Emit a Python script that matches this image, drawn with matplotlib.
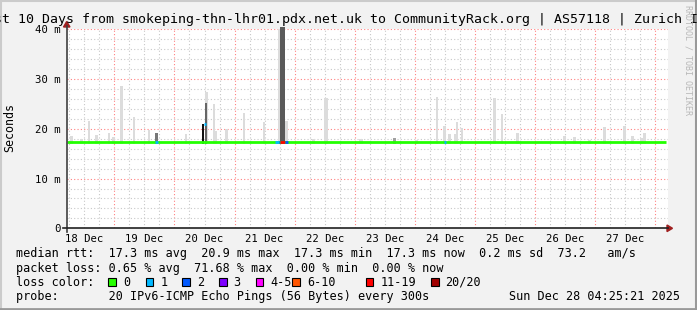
import matplotlib
matplotlib.use("Agg")
import matplotlib.pyplot as plt
from matplotlib.patches import Rectangle, Polygon
from matplotlib.lines import Line2D
import numpy as np

plt.rcParams['font.family'] = ['DejaVu Sans Mono']

# time axis: days since 18 Dec 00:00
t_start = 0.207
t_end = 10.207
day_labels = ["18 Dec", "19 Dec", "20 Dec", "21 Dec", "22 Dec",
              "23 Dec", "24 Dec", "25 Dec", "26 Dec", "27 Dec"]

median_ms = 17.3

# light smoke spikes (time in days, top in ms)
light_t = [0.283, 0.450, 0.578, 0.700, 0.907, 0.987, 1.117, 1.323, 1.573,
           2.195, 2.525, 2.545, 2.657, 2.695, 2.865, 3.157, 3.490, 3.745,
           3.867, 4.317, 4.515, 4.540, 5.090, 5.110, 6.028, 6.367, 6.495,
           6.578, 6.665, 6.703, 6.783, 7.325, 7.453, 7.707, 8.492, 8.658,
           8.908, 9.158, 9.492, 9.610, 9.630, 9.775, 9.825]
light_top = [18.5, 18.0, 21.6, 18.75, 19.2, 18.4, 28.7, 22.4, 19.8,
             19.0, 27.4, 27.4, 25.0, 19.6, 20.0, 23.2, 21.4, 40.0,
             21.6, 18.0, 26.1, 26.1, 18.0, 18.0, 17.7, 26.4, 20.6,
             19.0, 19.0, 21.4, 20.2, 26.2, 23.0, 19.2, 18.55, 18.35,
             17.75, 20.4, 20.6, 18.55, 18.55, 18.1, 19.2]

# dense smoke spikes
dark_t = [1.703, 2.473, 2.522, 3.775, 3.815, 5.658]
dark_top = [19.2, 21.0, 25.2, 40.5, 40.5, 18.1]
dark_colors = ["#777777", "#111111", "#666666", "#5a5a5a", "#5a5a5a", "#a0a0a0"]

# median segments with packet loss (start, end, median, loss colour)
loss_start = [1.675, 2.490, 3.677, 3.733, 3.760, 3.845, 6.480]
loss_end = [1.725, 2.520, 3.733, 3.760, 3.845, 3.890, 6.510]
loss_median = [17.3, 21.0, 17.3, 17.3, 17.3, 17.3, 17.3]
loss_colors = ["#00b8ff", "#00b8ff", "#00b8ff", "#0059ff", "#ff0000", "#0059ff", "#00b8ff"]

legend_names = ["0", "1", "2", "3", "4-5", "6-10", "11-19", "20/20"]
legend_colors = ["#26ff00", "#00b8ff", "#0059ff", "#7e00ff", "#ff00ff",
                 "#ff5500", "#ff0000", "#a10000"]

W, H = 697, 310


def px(x, y):
    return (x / W, 1 - y / H)


fig = plt.figure(figsize=(W / 100, H / 100), dpi=100)
fig.patch.set_facecolor("#f2f2f2")

ax = fig.add_axes([66.7 / W, (H - 228.3) / H, 601 / W, 199 / H])
ax.set_facecolor("white")
ax.set_xlim(t_start, t_end)
ax.set_ylim(0, 40)
for s in ax.spines.values():
    s.set_visible(False)

# grid
dot = (0, (1, 2))
for h in np.arange(0.25, 10.3, 0.25):
    if h < t_start or h > t_end:
        continue
    is_day = abs(h - round(h)) < 1e-6
    ax.axvline(h, color="#ff8080" if is_day else "#c8c8c8",
               lw=0.8, ls=dot, zorder=0)
for v in np.arange(2, 41, 2):
    ax.axhline(v, color="#ff8080" if v % 10 == 0 else "#c8c8c8",
               lw=0.8, ls=dot, zorder=0)

w = 0.042
ax.bar(light_t, np.array(light_top) - 17.0, bottom=17.0, width=w,
       color="#dcdcdc", linewidth=0, zorder=2)
ax.bar(dark_t, np.array(dark_top) - 17.0, bottom=17.0, width=w,
       color=dark_colors, linewidth=0, zorder=3, clip_on=False)

ax.plot([t_start, 10.18], [median_ms, median_ms], color="#22ff00",
        lw=2, solid_capstyle="butt", zorder=4)
for a, b, m, c in zip(loss_start, loss_end, loss_median, loss_colors):
    ax.plot([a, b], [m, m], color=c, lw=2, solid_capstyle="butt", zorder=5)

ax.set_xticks(np.arange(len(day_labels)) + 0.5)
ax.set_xticklabels(day_labels, fontsize=7.7)
ax.set_yticks([0, 10, 20, 30, 40])
ax.set_yticklabels(["0", "10 m", "20 m", "30 m", "40 m"], fontsize=7.7)
ax.tick_params(length=0, pad=4.5)
ax.tick_params(axis="x", pad=4.0)

# axes lines with arrows
fig.add_artist(Line2D([px(66.7, 0)[0]] * 2, [px(0, 231.5)[1], px(0, 26)[1]],
                      color="#404040", lw=1.2))
fig.add_artist(Line2D([px(63, 0)[0], px(668, 0)[0]], [px(0, 228.3)[1]] * 2,
                      color="#202020", lw=1.2))
fig.add_artist(Polygon([px(63.5, 27), px(70, 27), px(66.7, 21.5)],
                       closed=True, color="#a02020"))
fig.add_artist(Polygon([px(667, 225), px(667, 231.6), px(672.5, 228.3)],
                       closed=True, color="#a02020"))

# title and labels
fig.text(px(-21.9, 0)[0], px(0, 23.5)[1],
         "Last 10 Days from smokeping-thn-lhr01.pdx.net.uk to CommunityRack.org | AS57118 | Zurich IPv6",
         fontsize=9.55, ha="left", va="baseline")
fig.text(*px(10, 127.5), "Seconds", rotation=90, fontsize=8.4,
         ha="center", va="center")
fig.text(*px(688, 5), "RRDTOOL / TOBI OETIKER", rotation=270, fontsize=6,
         color="#b8b8b8", ha="center", va="top")

fs = 8.5
fig.text(*px(16, 257.3),
         "median rtt:  17.3 ms avg  20.9 ms max  17.3 ms min  17.3 ms now  0.2 ms sd  73.2   am/s",
         fontsize=fs, va="baseline")
fig.text(*px(16, 271.6),
         "packet loss: 0.65 % avg  71.68 % max  0.00 % min  0.00 % now",
         fontsize=fs, va="baseline")
fig.text(*px(16, 285.8), "loss color:", fontsize=fs, va="baseline")
sq_x = [108.3, 145.7, 182.3, 219, 255.7, 292.3, 365.7, 431]
for x, name, c in zip(sq_x, legend_names, legend_colors):
    fig.add_artist(Rectangle(px(x, 285.5), 7.5 / W, 8 / H, facecolor=c,
                             edgecolor="black", lw=0.8))
    fig.text(*px(x + 14.5, 285.8), name, fontsize=fs, va="baseline")
fig.text(*px(16, 300),
         "probe:       20 IPv6-ICMP Echo Pings (56 Bytes) every 300s",
         fontsize=fs, va="baseline")
fig.text(*px(680, 300), "Sun Dec 28 04:25:21 2025", fontsize=fs,
         va="baseline", ha="right")

# canvas border
fig.add_artist(Line2D([0, 1], [px(0, 0.8)[1]] * 2, color="#cbcbcb", lw=1.5))
fig.add_artist(Line2D([px(0.8, 0)[0]] * 2, [0, 1], color="#cbcbcb", lw=1.5))
fig.add_artist(Line2D([0, 1], [px(0, 309)[1]] * 2, color="#999999", lw=2))
fig.add_artist(Line2D([px(696.2, 0)[0]] * 2, [0, 1], color="#999999", lw=1.5))

fig.savefig("out.png", dpi=100, facecolor=fig.get_facecolor())
